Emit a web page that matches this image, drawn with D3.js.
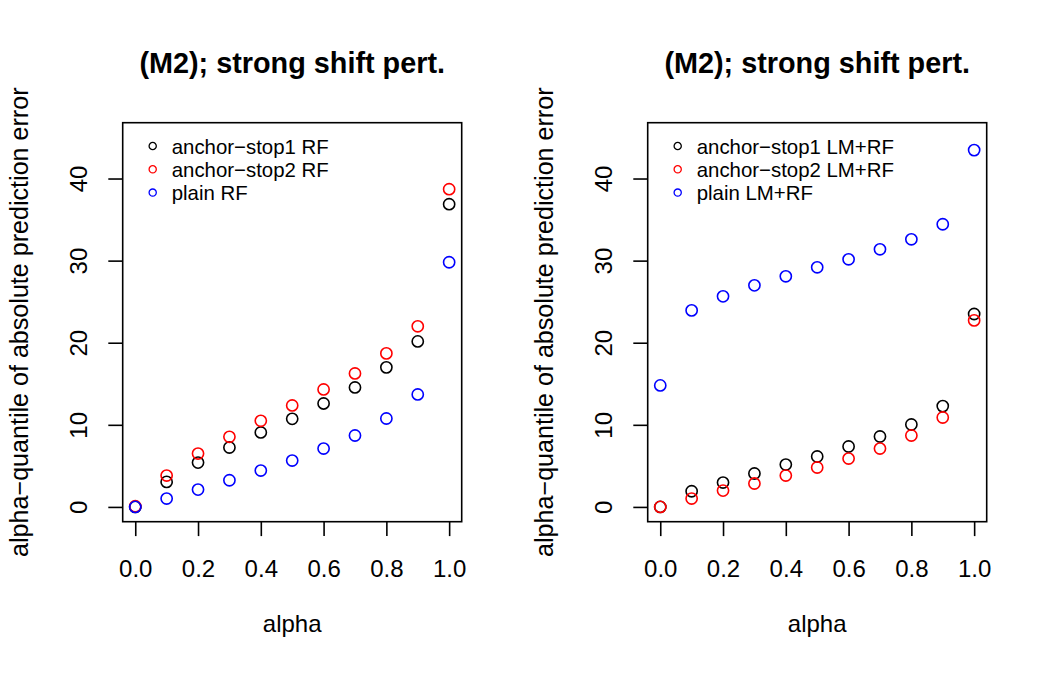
<!DOCTYPE html>
<html>
<head>
<meta charset="utf-8">
<script src="https://cdn.jsdelivr.net/npm/d3@7"></script>
<style>
  body { margin: 0; background: #fff; }
  svg { font-family: "Liberation Sans", Arial, Helvetica, sans-serif; }
</style>
</head>
<body>
<svg id="chart"></svg>
<script>
// x values (alpha levels)
const alpha = [0, 0.1, 0.2, 0.3, 0.4, 0.5, 0.6, 0.7, 0.8, 0.9, 1.0];

// left panel: RF
const rfStop1 = [0, 3.05, 5.4, 7.24, 9.07, 10.73, 12.6, 14.55, 17.0, 20.16, 36.87];
const rfStop2 = [0.08, 3.82, 6.5, 8.54, 10.49, 12.36, 14.31, 16.26, 18.7, 22.0, 38.7];
const rfPlain = [0, 1.02, 2.11, 3.25, 4.43, 5.65, 7.11, 8.7, 10.77, 13.7, 29.8];

// right panel: LM+RF
const lmrfStop1 = [0, 1.91, 2.97, 4.07, 5.16, 6.14, 7.36, 8.58, 10.04, 12.28, 23.5];
const lmrfStop2 = [0, 1.02, 1.99, 2.85, 3.82, 4.8, 5.89, 7.11, 8.7, 10.89, 22.72];
const lmrfPlain = [14.8, 23.94, 25.65, 26.99, 28.09, 29.19, 30.16, 31.38, 32.6, 34.43, 43.46];

const xTicks = [0, 0.2, 0.4, 0.6, 0.8, 1.0];
const yTicks = [0, 10, 20, 30, 40];
const titleText = "(M2); strong shift pert.";
const xLabel = "alpha";
const yLabel = "alpha\u2212quantile of absolute prediction error";
const leftLabels = ["anchor\u2212stop1 RF", "anchor\u2212stop2 RF", "plain RF"];
const rightLabels = ["anchor\u2212stop1 LM+RF", "anchor\u2212stop2 LM+RF", "plain LM+RF"];
const colors = ["#000000", "#ff0000", "#0000ff"];

const width = 1050;
const height = 675;

const svg = d3.select("#chart").attr("width", width).attr("height", height);

const panels = [
  { left: 122.7, series: [rfStop1, rfStop2, rfPlain], labels: leftLabels },
  { left: 647.7, series: [lmrfStop1, lmrfStop2, lmrfPlain], labels: rightLabels }
];

const boxW = 339;
const boxTop = 122.7;
const boxBottom = 521.7;

panels.forEach(function (p) {
  const g = svg.append("g");

  // R style 4% extended ranges
  const xScale = d3.scaleLinear().domain([-0.04, 1.04]).range([p.left, p.left + boxW]);
  const yScale = d3.scaleLinear().domain([-1.8, 46.8]).range([boxBottom, boxTop]);

  // points (drawn in series order so later ones sit on top)
  p.series.forEach(function (vals, i) {
    g.selectAll(null)
      .data(alpha)
      .enter()
      .append("circle")
      .attr("cx", (d) => xScale(d))
      .attr("cy", (d, j) => yScale(vals[j]))
      .attr("r", 5.6)
      .attr("fill", "none")
      .attr("stroke", colors[i])
      .attr("stroke-width", 1.6);
  });

  // frame
  g.append("rect")
    .attr("x", p.left)
    .attr("y", boxTop)
    .attr("width", boxW)
    .attr("height", boxBottom - boxTop)
    .attr("fill", "none")
    .attr("stroke", "#000")
    .attr("stroke-width", 1.6);

  // x axis
  const xAxis = d3.axisBottom(xScale)
    .tickValues(xTicks)
    .tickSize(14.4)
    .tickFormat(d3.format(".1f"));

  const xg = g.append("g")
    .attr("transform", `translate(0, ${boxBottom})`)
    .call(xAxis);
  xg.select(".domain").remove();
  xg.selectAll("line").attr("stroke-width", 1.6);
  xg.selectAll("text")
    .attr("fill", "#000")
    .attr("y", 55)
    .attr("dy", 0)
    .style("font-size", "24px");

  // y axis
  const yAxis = d3.axisLeft(yScale).tickValues(yTicks).tickSize(14.4);
  const yg = g.append("g")
    .attr("transform", `translate(${p.left}, 0)`)
    .call(yAxis);
  yg.select(".domain").remove();
  yg.selectAll("line").attr("stroke-width", 1.6);
  yg.selectAll("text")
    .attr("fill", "#000")
    .attr("x", 0)
    .attr("y", -36)
    .attr("dy", 0)
    .attr("transform", "rotate(-90)")
    .attr("text-anchor", "middle")
    .style("font-size", "24px");

  // title
  g.append("text")
    .attr("x", p.left + boxW / 2)
    .attr("y", 73)
    .attr("text-anchor", "middle")
    .attr("font-weight", "bold")
    .style("font-size", "28.8px")
    .text(titleText);

  // x label
  g.append("text")
    .attr("x", p.left + boxW / 2)
    .attr("y", 632)
    .attr("text-anchor", "middle")
    .style("font-size", "24px")
    .text(xLabel);

  // y label
  g.append("text")
    .attr("transform", `translate(${p.left - 95}, ${(boxTop + boxBottom) / 2}) rotate(-90)`)
    .attr("text-anchor", "middle")
    .style("font-size", "25.1px")
    .text(yLabel);

  // legend (no box)
  const legend = g.selectAll(".legend-item")
    .data(p.labels)
    .enter()
    .append("g")
    .attr("class", "legend-item")
    .attr("transform", (d, i) => `translate(${p.left + 30}, ${146 + i * 23.3})`);

  legend.append("circle")
    .attr("r", 3.6)
    .attr("fill", "none")
    .attr("stroke", (d, i) => colors[i])
    .attr("stroke-width", 1.3);

  legend.append("text")
    .attr("x", 19)
    .attr("y", 7.5)
    .style("font-size", "20.4px")
    .text((d) => d);
});
</script>
</body>
</html>
